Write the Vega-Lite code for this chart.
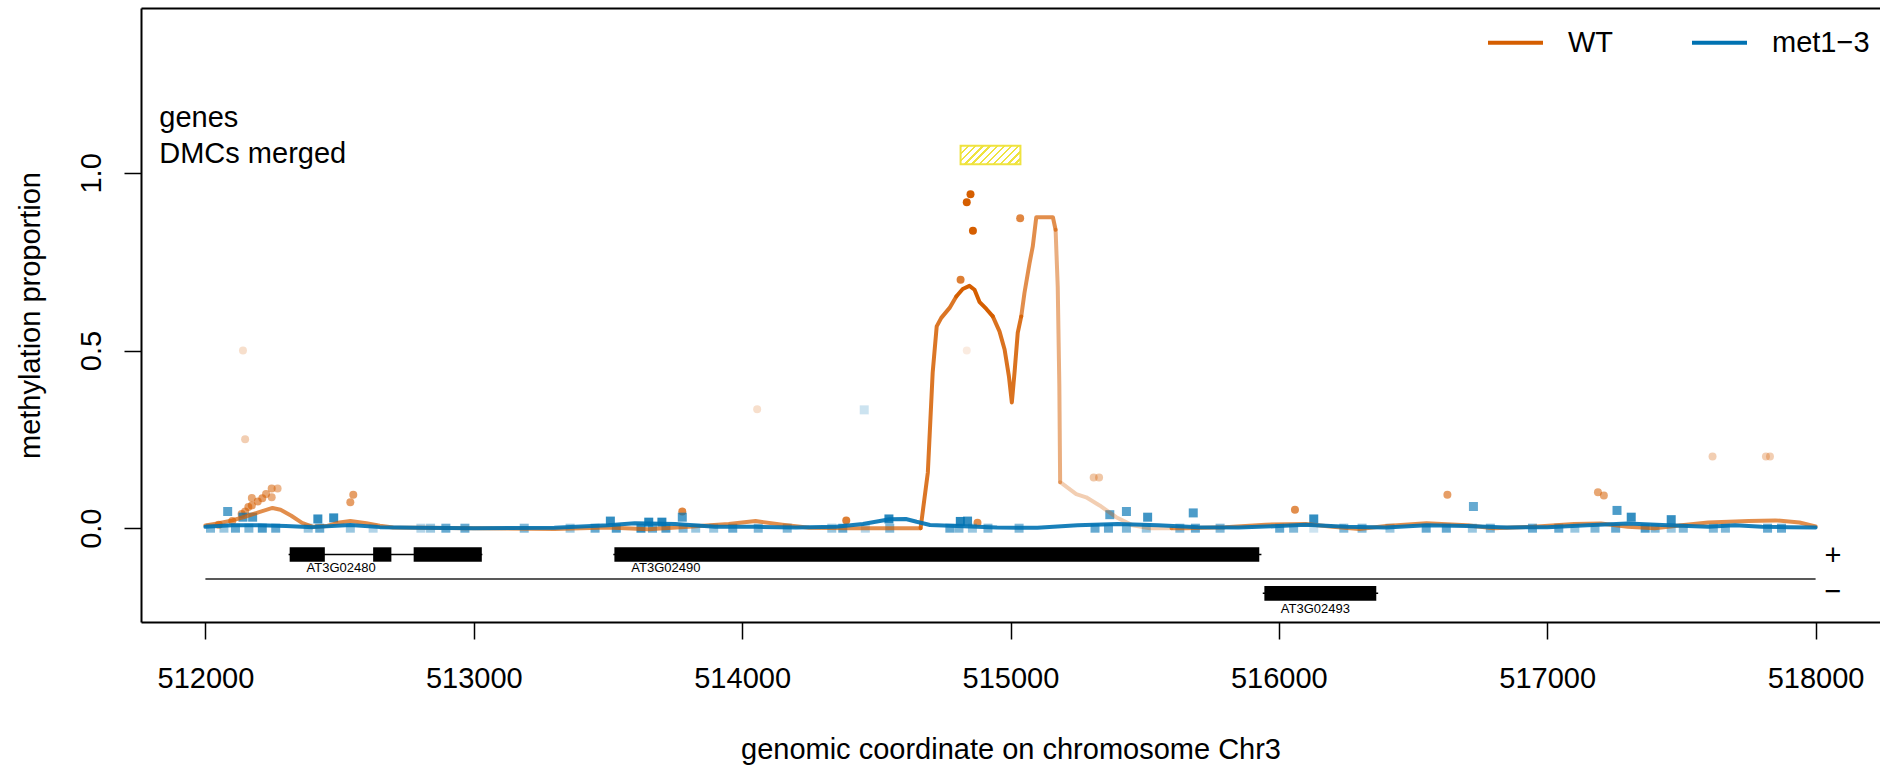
{
  "$schema": "https://vega.github.io/schema/vega-lite/v6.json",
  "width": 1739,
  "height": 614,
  "autosize": {"type": "none"},
  "padding": {"left": 141, "top": 8, "right": 0, "bottom": 143},
  "background": "white",
  "config": {"view": {"stroke": null}, "font": "Liberation Sans"},
  "datasets": {
    "lines": [
      {"sample":"WT","seg":"w1","a":0.7,"pos":512000,"meth":0.008},{"sample":"WT","seg":"w1","a":0.7,"pos":512050,"meth":0.014},{"sample":"WT","seg":"w1","a":0.7,"pos":512100,"meth":0.022},{"sample":"WT","seg":"w1","a":0.7,"pos":512150,"meth":0.033},{"sample":"WT","seg":"w1","a":0.7,"pos":512200,"meth":0.045},{"sample":"WT","seg":"w1","a":0.7,"pos":512250,"meth":0.057},{"sample":"WT","seg":"w1","a":0.7,"pos":512280,"meth":0.052},{"sample":"WT","seg":"w1","a":0.7,"pos":512320,"meth":0.035},{"sample":"WT","seg":"w1","a":0.7,"pos":512360,"meth":0.015},{"sample":"WT","seg":"w1","a":0.7,"pos":512400,"meth":0.004},{"sample":"WT","seg":"w1","a":0.7,"pos":512450,"meth":0.006},{"sample":"WT","seg":"w1","a":0.7,"pos":512500,"meth":0.016},{"sample":"WT","seg":"w1","a":0.7,"pos":512540,"meth":0.02},{"sample":"WT","seg":"w1","a":0.7,"pos":512600,"meth":0.014},{"sample":"WT","seg":"w1","a":0.7,"pos":512650,"meth":0.007},{"sample":"WT","seg":"w1","a":0.7,"pos":512700,"meth":0.002},{"sample":"WT","seg":"w1","a":0.7,"pos":512800,"meth":0.001},{"sample":"WT","seg":"w1","a":0.7,"pos":513000,"meth":0.0},{"sample":"WT","seg":"w1","a":0.7,"pos":513300,"meth":-0.002},{"sample":"WT","seg":"w1","a":0.7,"pos":513500,"meth":0.002},{"sample":"WT","seg":"w1","a":0.7,"pos":513650,"meth":-0.003},{"sample":"WT","seg":"w1","a":0.7,"pos":513800,"meth":0.004},{"sample":"WT","seg":"w1","a":0.7,"pos":513950,"meth":0.012},{"sample":"WT","seg":"w1","a":0.7,"pos":514050,"meth":0.02},{"sample":"WT","seg":"w1","a":0.7,"pos":514150,"meth":0.01},{"sample":"WT","seg":"w1","a":0.7,"pos":514250,"meth":0.001},{"sample":"WT","seg":"w1","a":0.7,"pos":514400,"meth":0.0},{"sample":"WT","seg":"w1","a":0.7,"pos":514550,"meth":0.0},{"sample":"WT","seg":"w1","a":0.7,"pos":514665,"meth":0.0},
      {"sample":"WT","seg":"w2","a":0.85,"pos":514665,"meth":0.0},{"sample":"WT","seg":"w2","a":0.85,"pos":514692,"meth":0.157},{"sample":"WT","seg":"w2","a":0.85,"pos":514710,"meth":0.438},{"sample":"WT","seg":"w2","a":0.85,"pos":514725,"meth":0.568},{"sample":"WT","seg":"w2","a":0.85,"pos":514742,"meth":0.592},{"sample":"WT","seg":"w2","a":0.85,"pos":514773,"meth":0.62},{"sample":"WT","seg":"w2","a":0.85,"pos":514798,"meth":0.652},
      {"sample":"WT","seg":"w3","a":1,"pos":514798,"meth":0.652},{"sample":"WT","seg":"w3","a":1,"pos":514822,"meth":0.673},{"sample":"WT","seg":"w3","a":1,"pos":514847,"meth":0.682},{"sample":"WT","seg":"w3","a":1,"pos":514866,"meth":0.671},{"sample":"WT","seg":"w3","a":1,"pos":514885,"meth":0.636},{"sample":"WT","seg":"w3","a":1,"pos":514910,"meth":0.617},{"sample":"WT","seg":"w3","a":1,"pos":514934,"meth":0.596},
      {"sample":"WT","seg":"w4","a":0.88,"pos":514934,"meth":0.596},{"sample":"WT","seg":"w4","a":0.88,"pos":514959,"meth":0.554},{"sample":"WT","seg":"w4","a":0.88,"pos":514978,"meth":0.503},{"sample":"WT","seg":"w4","a":0.88,"pos":514994,"meth":0.428},{"sample":"WT","seg":"w4","a":0.88,"pos":515005,"meth":0.354},{"sample":"WT","seg":"w4","a":0.88,"pos":515015,"meth":0.438},{"sample":"WT","seg":"w4","a":0.88,"pos":515027,"meth":0.55},{"sample":"WT","seg":"w4","a":0.88,"pos":515040,"meth":0.596},
      {"sample":"WT","seg":"w5","a":0.7,"pos":515040,"meth":0.596},{"sample":"WT","seg":"w5","a":0.7,"pos":515052,"meth":0.662},{"sample":"WT","seg":"w5","a":0.7,"pos":515071,"meth":0.746},{"sample":"WT","seg":"w5","a":0.7,"pos":515083,"meth":0.793},{"sample":"WT","seg":"w5","a":0.7,"pos":515096,"meth":0.875},{"sample":"WT","seg":"w5","a":0.7,"pos":515158,"meth":0.875},{"sample":"WT","seg":"w5","a":0.7,"pos":515168,"meth":0.84},
      {"sample":"WT","seg":"w6","a":0.5,"pos":515168,"meth":0.84},{"sample":"WT","seg":"w6","a":0.5,"pos":515176,"meth":0.68},{"sample":"WT","seg":"w6","a":0.5,"pos":515182,"meth":0.4},{"sample":"WT","seg":"w6","a":0.5,"pos":515185,"meth":0.129},
      {"sample":"WT","seg":"w7","a":0.3,"pos":515185,"meth":0.129},{"sample":"WT","seg":"w7","a":0.3,"pos":515194,"meth":0.125},{"sample":"WT","seg":"w7","a":0.3,"pos":515245,"meth":0.096},{"sample":"WT","seg":"w7","a":0.3,"pos":515282,"meth":0.087},{"sample":"WT","seg":"w7","a":0.3,"pos":515332,"meth":0.064},{"sample":"WT","seg":"w7","a":0.3,"pos":515394,"meth":0.031},{"sample":"WT","seg":"w7","a":0.3,"pos":515455,"meth":0.008},{"sample":"WT","seg":"w7","a":0.3,"pos":515520,"meth":0.0},{"sample":"WT","seg":"w7","a":0.3,"pos":515600,"meth":0.0},
      {"sample":"WT","seg":"w8","a":0.7,"pos":515600,"meth":0.0},{"sample":"WT","seg":"w8","a":0.7,"pos":515650,"meth":0.0},{"sample":"WT","seg":"w8","a":0.7,"pos":515800,"meth":0.003},{"sample":"WT","seg":"w8","a":0.7,"pos":515950,"meth":0.01},{"sample":"WT","seg":"w8","a":0.7,"pos":516100,"meth":0.012},{"sample":"WT","seg":"w8","a":0.7,"pos":516200,"meth":0.004},{"sample":"WT","seg":"w8","a":0.7,"pos":516300,"meth":-0.002},{"sample":"WT","seg":"w8","a":0.7,"pos":516400,"meth":0.006},{"sample":"WT","seg":"w8","a":0.7,"pos":516550,"meth":0.014},{"sample":"WT","seg":"w8","a":0.7,"pos":516700,"meth":0.008},{"sample":"WT","seg":"w8","a":0.7,"pos":516800,"meth":0.0},{"sample":"WT","seg":"w8","a":0.7,"pos":516950,"meth":0.004},{"sample":"WT","seg":"w8","a":0.7,"pos":517100,"meth":0.012},{"sample":"WT","seg":"w8","a":0.7,"pos":517200,"meth":0.013},{"sample":"WT","seg":"w8","a":0.7,"pos":517300,"meth":0.004},{"sample":"WT","seg":"w8","a":0.7,"pos":517400,"meth":0.0},{"sample":"WT","seg":"w8","a":0.7,"pos":517500,"meth":0.008},{"sample":"WT","seg":"w8","a":0.7,"pos":517600,"meth":0.016},{"sample":"WT","seg":"w8","a":0.7,"pos":517750,"meth":0.02},{"sample":"WT","seg":"w8","a":0.7,"pos":517850,"meth":0.022},{"sample":"WT","seg":"w8","a":0.7,"pos":517940,"meth":0.016},{"sample":"WT","seg":"w8","a":0.7,"pos":518000,"meth":0.005},
      {"sample":"met1−3","seg":"m1","a":0.9,"pos":512000,"meth":0.004},{"sample":"met1−3","seg":"m1","a":0.9,"pos":512100,"meth":0.008},{"sample":"met1−3","seg":"m1","a":0.9,"pos":512200,"meth":0.008},{"sample":"met1−3","seg":"m1","a":0.9,"pos":512300,"meth":0.006},{"sample":"met1−3","seg":"m1","a":0.9,"pos":512400,"meth":0.003},{"sample":"met1−3","seg":"m1","a":0.9,"pos":512540,"meth":0.009},{"sample":"met1−3","seg":"m1","a":0.9,"pos":512650,"meth":0.003},{"sample":"met1−3","seg":"m1","a":0.9,"pos":512800,"meth":0.001},{"sample":"met1−3","seg":"m1","a":0.9,"pos":513000,"meth":0.0},{"sample":"met1−3","seg":"m1","a":0.9,"pos":513300,"meth":0.001},{"sample":"met1−3","seg":"m1","a":0.9,"pos":513500,"meth":0.008},{"sample":"met1−3","seg":"m1","a":0.9,"pos":513600,"meth":0.014},{"sample":"met1−3","seg":"m1","a":0.9,"pos":513750,"meth":0.012},{"sample":"met1−3","seg":"m1","a":0.9,"pos":513900,"meth":0.004},{"sample":"met1−3","seg":"m1","a":0.9,"pos":514050,"meth":0.004},{"sample":"met1−3","seg":"m1","a":0.9,"pos":514200,"meth":0.002},{"sample":"met1−3","seg":"m1","a":0.9,"pos":514350,"meth":0.004},{"sample":"met1−3","seg":"m1","a":0.9,"pos":514450,"meth":0.012},{"sample":"met1−3","seg":"m1","a":0.9,"pos":514550,"meth":0.025},{"sample":"met1−3","seg":"m1","a":0.9,"pos":514610,"meth":0.026},{"sample":"met1−3","seg":"m1","a":0.9,"pos":514650,"meth":0.018},{"sample":"met1−3","seg":"m1","a":0.9,"pos":514700,"meth":0.009},{"sample":"met1−3","seg":"m1","a":0.9,"pos":514800,"meth":0.006},{"sample":"met1−3","seg":"m1","a":0.9,"pos":514950,"meth":0.002},{"sample":"met1−3","seg":"m1","a":0.9,"pos":515100,"meth":0.001},{"sample":"met1−3","seg":"m1","a":0.9,"pos":515250,"meth":0.008},{"sample":"met1−3","seg":"m1","a":0.9,"pos":515400,"meth":0.012},{"sample":"met1−3","seg":"m1","a":0.9,"pos":515550,"meth":0.008},{"sample":"met1−3","seg":"m1","a":0.9,"pos":515700,"meth":0.003},{"sample":"met1−3","seg":"m1","a":0.9,"pos":515850,"meth":0.002},{"sample":"met1−3","seg":"m1","a":0.9,"pos":516000,"meth":0.006},{"sample":"met1−3","seg":"m1","a":0.9,"pos":516100,"meth":0.01},{"sample":"met1−3","seg":"m1","a":0.9,"pos":516250,"meth":0.004},{"sample":"met1−3","seg":"m1","a":0.9,"pos":516400,"meth":0.002},{"sample":"met1−3","seg":"m1","a":0.9,"pos":516550,"meth":0.008},{"sample":"met1−3","seg":"m1","a":0.9,"pos":516700,"meth":0.006},{"sample":"met1−3","seg":"m1","a":0.9,"pos":516850,"meth":0.002},{"sample":"met1−3","seg":"m1","a":0.9,"pos":517000,"meth":0.003},{"sample":"met1−3","seg":"m1","a":0.9,"pos":517150,"meth":0.008},{"sample":"met1−3","seg":"m1","a":0.9,"pos":517300,"meth":0.013},{"sample":"met1−3","seg":"m1","a":0.9,"pos":517450,"meth":0.008},{"sample":"met1−3","seg":"m1","a":0.9,"pos":517600,"meth":0.004},{"sample":"met1−3","seg":"m1","a":0.9,"pos":517700,"meth":0.008},{"sample":"met1−3","seg":"m1","a":0.9,"pos":517800,"meth":0.004},{"sample":"met1−3","seg":"m1","a":0.9,"pos":517900,"meth":0.003},{"sample":"met1−3","seg":"m1","a":0.9,"pos":518000,"meth":0.002}
    ],
    "wtpts": [
      {"pos":512050,"meth":0.01,"a":0.6},{"pos":512100,"meth":0.02,"a":0.6},{"pos":512135,"meth":0.04,"a":0.6},{"pos":512148,"meth":0.047,"a":0.6},{"pos":512148,"meth":0.25,"a":0.3},{"pos":512140,"meth":0.5,"a":0.2},{"pos":512160,"meth":0.06,"a":0.6},{"pos":512173,"meth":0.064,"a":0.6},{"pos":512173,"meth":0.085,"a":0.55},{"pos":512195,"meth":0.075,"a":0.6},{"pos":512212,"meth":0.084,"a":0.6},{"pos":512226,"meth":0.096,"a":0.55},{"pos":512247,"meth":0.087,"a":0.5},{"pos":512247,"meth":0.112,"a":0.55},{"pos":512269,"meth":0.112,"a":0.45},{"pos":512540,"meth":0.073,"a":0.6},{"pos":512551,"meth":0.094,"a":0.6},{"pos":513777,"meth":0.047,"a":0.75},{"pos":514056,"meth":0.335,"a":0.2},{"pos":514388,"meth":0.022,"a":0.8},{"pos":514814,"meth":0.699,"a":0.8},{"pos":514837,"meth":0.917,"a":1},{"pos":514851,"meth":0.94,"a":1},{"pos":514860,"meth":0.837,"a":1},{"pos":514837,"meth":0.5,"a":0.12},{"pos":514877,"meth":0.015,"a":0.7},{"pos":515036,"meth":0.872,"a":0.75},{"pos":515310,"meth":0.143,"a":0.35},{"pos":515330,"meth":0.143,"a":0.35},{"pos":516060,"meth":0.052,"a":0.7},{"pos":516628,"meth":0.094,"a":0.6},{"pos":517189,"meth":0.101,"a":0.55},{"pos":517211,"meth":0.092,"a":0.55},{"pos":517616,"meth":0.202,"a":0.3},{"pos":517815,"meth":0.202,"a":0.3},{"pos":517830,"meth":0.202,"a":0.3}
    ],
    "metpts": [
      {"pos":512083,"meth":0.047,"a":0.65},{"pos":512140,"meth":0.031,"a":0.7},{"pos":512176,"meth":0.031,"a":0.7},{"pos":512419,"meth":0.026,"a":0.8},{"pos":512478,"meth":0.029,"a":0.8},{"pos":513509,"meth":0.02,"a":0.8},{"pos":513652,"meth":0.017,"a":0.85},{"pos":513701,"meth":0.017,"a":0.85},{"pos":513777,"meth":0.031,"a":0.7},{"pos":514455,"meth":0.333,"a":0.2},{"pos":514547,"meth":0.026,"a":0.85},{"pos":514813,"meth":0.019,"a":0.85},{"pos":514840,"meth":0.02,"a":0.8},{"pos":515370,"meth":0.038,"a":0.65},{"pos":515432,"meth":0.047,"a":0.65},{"pos":515511,"meth":0.031,"a":0.75},{"pos":515681,"meth":0.043,"a":0.7},{"pos":516130,"meth":0.026,"a":0.8},{"pos":516725,"meth":0.061,"a":0.6},{"pos":517260,"meth":0.05,"a":0.7},{"pos":517313,"meth":0.031,"a":0.8},{"pos":517462,"meth":0.024,"a":0.8},
      {"pos":512019,"meth":0,"a":0.5},{"pos":512069,"meth":0,"a":0.4},{"pos":512112,"meth":0,"a":0.6},{"pos":512162,"meth":0,"a":0.5},{"pos":512212,"meth":0,"a":0.7},{"pos":512262,"meth":0,"a":0.6},{"pos":512383,"meth":0,"a":0.4},{"pos":512426,"meth":0,"a":0.6},{"pos":512540,"meth":0,"a":0.4},{"pos":512625,"meth":0,"a":0.3},{"pos":512803,"meth":0,"a":0.3},{"pos":512839,"meth":0,"a":0.4},{"pos":512896,"meth":0,"a":0.6},{"pos":512967,"meth":0,"a":0.6},{"pos":513188,"meth":0,"a":0.5},{"pos":513359,"meth":0,"a":0.4},{"pos":513452,"meth":0,"a":0.6},{"pos":513531,"meth":0,"a":0.7},{"pos":513623,"meth":0,"a":0.8},{"pos":513666,"meth":0,"a":0.6},{"pos":513716,"meth":0,"a":0.7},{"pos":513780,"meth":0,"a":0.5},{"pos":513827,"meth":0,"a":0.4},{"pos":513894,"meth":0,"a":0.4},{"pos":513965,"meth":0,"a":0.6},{"pos":514060,"meth":0,"a":0.5},{"pos":514168,"meth":0,"a":0.5},{"pos":514334,"meth":0,"a":0.4},{"pos":514375,"meth":0,"a":0.6},{"pos":514459,"meth":0,"a":0.3},{"pos":514550,"meth":0,"a":0.5},{"pos":514774,"meth":0,"a":0.6},{"pos":514808,"meth":0,"a":0.5},{"pos":514858,"meth":0,"a":0.4},{"pos":514916,"meth":0,"a":0.5},{"pos":515032,"meth":0,"a":0.5},{"pos":515315,"meth":0,"a":0.6},{"pos":515365,"meth":0,"a":0.6},{"pos":515432,"meth":0,"a":0.5},{"pos":515506,"meth":0,"a":0.4},{"pos":515631,"meth":0,"a":0.5},{"pos":515689,"meth":0,"a":0.6},{"pos":515781,"meth":0,"a":0.5},{"pos":516003,"meth":0,"a":0.6},{"pos":516055,"meth":0,"a":0.5},{"pos":516130,"meth":0,"a":0.2},{"pos":516242,"meth":0,"a":0.5},{"pos":516310,"meth":0,"a":0.5},{"pos":516414,"meth":0,"a":0.4},{"pos":516549,"meth":0,"a":0.6},{"pos":516624,"meth":0,"a":0.6},{"pos":516721,"meth":0,"a":0.4},{"pos":516788,"meth":0,"a":0.5},{"pos":516945,"meth":0,"a":0.6},{"pos":517043,"meth":0,"a":0.6},{"pos":517103,"meth":0,"a":0.4},{"pos":517178,"meth":0,"a":0.5},{"pos":517255,"meth":0,"a":0.6},{"pos":517365,"meth":0,"a":0.7},{"pos":517402,"meth":0,"a":0.5},{"pos":517462,"meth":0,"a":0.4},{"pos":517507,"meth":0,"a":0.5},{"pos":517619,"meth":0,"a":0.5},{"pos":517664,"meth":0,"a":0.5},{"pos":517821,"meth":0,"a":0.6},{"pos":517873,"meth":0,"a":0.6}
    ],
    "genes": [
      {"gene":"AT3G02480","strand":"+","start":512310,"end":513032},
      {"gene":"AT3G02490","strand":"+","start":513520,"end":515935},
      {"gene":"AT3G02493","strand":"-","start":515940,"end":516370}
    ],
    "exons": [
      {"gene":"AT3G02480","strand":"+","start":512314,"end":512445},
      {"gene":"AT3G02480","strand":"+","start":512625,"end":512693},
      {"gene":"AT3G02480","strand":"+","start":512776,"end":513030},
      {"gene":"AT3G02490","strand":"+","start":513524,"end":515927},
      {"gene":"AT3G02493","strand":"-","start":515946,"end":516363}
    ]
  },
  "layer": [
    {
      "data": {"values": [{}]},
      "mark": {"type": "text", "text": ["genes", "DMCs merged"], "align": "left", "baseline": "alphabetic", "fontSize": 29, "lineHeight": 35.7, "font": "Liberation Sans", "color": "black"},
      "encoding": {
        "x": {"datum": 511828, "type": "quantitative", "axis": null},
        "y": {"datum": 1.129, "type": "quantitative"}
      }
    },
    {
      "data": {"values": [{}]},
      "mark": {"type": "rule", "color": "#222222", "strokeWidth": 1.5},
      "encoding": {
        "x": {"datum": 512000, "type": "quantitative", "axis": null},
        "x2": {"datum": 518000},
        "y": {"datum": -0.143, "type": "quantitative"}
      }
    },
    {
      "data": {"name": "genes"},
      "transform": [{"filter": "datum.strand === '+'"}],
      "mark": {"type": "rule", "color": "black", "strokeWidth": 1.5},
      "encoding": {
        "x": {"field": "start", "type": "quantitative", "axis": null},
        "x2": {"field": "end"},
        "y": {"datum": -0.074, "type": "quantitative"}
      }
    },
    {
      "data": {"name": "genes"},
      "transform": [{"filter": "datum.strand === '-'"}],
      "mark": {"type": "rule", "color": "black", "strokeWidth": 1.5},
      "encoding": {
        "x": {"field": "start", "type": "quantitative", "axis": null},
        "x2": {"field": "end"},
        "y": {"datum": -0.183, "type": "quantitative"}
      }
    },
    {
      "data": {"name": "exons"},
      "transform": [{"filter": "datum.strand === '+'"}],
      "mark": {"type": "rect", "color": "black"},
      "encoding": {
        "x": {"field": "start", "type": "quantitative", "axis": null},
        "x2": {"field": "end"},
        "y": {"datum": -0.0538, "type": "quantitative"},
        "y2": {"datum": -0.0943}
      }
    },
    {
      "data": {"name": "exons"},
      "transform": [{"filter": "datum.strand === '-'"}],
      "mark": {"type": "rect", "color": "black"},
      "encoding": {
        "x": {"field": "start", "type": "quantitative", "axis": null},
        "x2": {"field": "end"},
        "y": {"datum": -0.1627, "type": "quantitative"},
        "y2": {"datum": -0.204}
      }
    },
    {
      "data": {"name": "genes"},
      "transform": [{"filter": "datum.strand === '+'"}],
      "mark": {"type": "text", "align": "left", "baseline": "middle", "dx": 18, "fontSize": 13, "font": "Liberation Sans", "color": "black"},
      "encoding": {
        "x": {"field": "start", "type": "quantitative", "axis": null},
        "y": {"datum": -0.112, "type": "quantitative"},
        "text": {"field": "gene"}
      }
    },
    {
      "data": {"name": "genes"},
      "transform": [{"filter": "datum.strand === '-'"}],
      "mark": {"type": "text", "align": "left", "baseline": "middle", "dx": 18, "fontSize": 13, "font": "Liberation Sans", "color": "black"},
      "encoding": {
        "x": {"field": "start", "type": "quantitative", "axis": null},
        "y": {"datum": -0.228, "type": "quantitative"},
        "text": {"field": "gene"}
      }
    },
    {
      "data": {"values": [{}]},
      "mark": {"type": "text", "text": ["+", "−"], "align": "center", "baseline": "alphabetic", "fontSize": 29, "lineHeight": 36.7, "font": "Liberation Sans", "color": "black"},
      "encoding": {
        "x": {"datum": 518065, "type": "quantitative", "axis": null},
        "y": {"datum": -0.1024, "type": "quantitative"}
      }
    },
    {
      "data": {"values": [{"start": 514814, "end": 515037}]},
      "mark": {
        "type": "rect",
        "stroke": "#EFE33F",
        "strokeWidth": 2,
        "fill": {
          "gradient": "linear", "x1": 0, "y1": 0, "x2": 1.2, "y2": 0.372,
          "stops": [
            {"offset": 0, "color": "#EFE33F"}, {"offset": 0.03, "color": "#EFE33F"}, {"offset": 0.03, "color": "white"}, {"offset": 0.0909, "color": "white"},
            {"offset": 0.0909, "color": "#EFE33F"}, {"offset": 0.1209, "color": "#EFE33F"}, {"offset": 0.1209, "color": "white"}, {"offset": 0.1818, "color": "white"},
            {"offset": 0.1818, "color": "#EFE33F"}, {"offset": 0.2118, "color": "#EFE33F"}, {"offset": 0.2118, "color": "white"}, {"offset": 0.2727, "color": "white"},
            {"offset": 0.2727, "color": "#EFE33F"}, {"offset": 0.3027, "color": "#EFE33F"}, {"offset": 0.3027, "color": "white"}, {"offset": 0.3636, "color": "white"},
            {"offset": 0.3636, "color": "#EFE33F"}, {"offset": 0.3936, "color": "#EFE33F"}, {"offset": 0.3936, "color": "white"}, {"offset": 0.4545, "color": "white"},
            {"offset": 0.4545, "color": "#EFE33F"}, {"offset": 0.4845, "color": "#EFE33F"}, {"offset": 0.4845, "color": "white"}, {"offset": 0.5455, "color": "white"},
            {"offset": 0.5455, "color": "#EFE33F"}, {"offset": 0.5755, "color": "#EFE33F"}, {"offset": 0.5755, "color": "white"}, {"offset": 0.6364, "color": "white"},
            {"offset": 0.6364, "color": "#EFE33F"}, {"offset": 0.6664, "color": "#EFE33F"}, {"offset": 0.6664, "color": "white"}, {"offset": 0.7273, "color": "white"},
            {"offset": 0.7273, "color": "#EFE33F"}, {"offset": 0.7573, "color": "#EFE33F"}, {"offset": 0.7573, "color": "white"}, {"offset": 0.8182, "color": "white"},
            {"offset": 0.8182, "color": "#EFE33F"}, {"offset": 0.8482, "color": "#EFE33F"}, {"offset": 0.8482, "color": "white"}, {"offset": 0.9091, "color": "white"},
            {"offset": 0.9091, "color": "#EFE33F"}, {"offset": 0.9391, "color": "#EFE33F"}, {"offset": 0.9391, "color": "white"}, {"offset": 1, "color": "white"}
          ]
        }
      },
      "encoding": {
        "x": {
          "field": "start", "type": "quantitative",
          "axis": {"orient": "top", "labels": false, "ticks": false, "title": null, "domainColor": "black", "domainWidth": 2, "grid": false}
        },
        "x2": {"field": "end"},
        "y": {"datum": 1.0242, "type": "quantitative"},
        "y2": {"datum": 1.0766}
      }
    },
    {
      "data": {"name": "wtpts"},
      "mark": {"type": "point", "shape": "circle", "filled": true, "size": 64, "color": "#D55E00", "strokeWidth": 0},
      "encoding": {
        "x": {"field": "pos", "type": "quantitative", "axis": null},
        "y": {"field": "meth", "type": "quantitative"},
        "opacity": {"field": "a", "type": "quantitative", "scale": null}
      }
    },
    {
      "data": {"name": "metpts"},
      "mark": {"type": "point", "shape": "square", "filled": true, "size": 81, "color": "#0072B2", "strokeWidth": 0},
      "encoding": {
        "x": {"field": "pos", "type": "quantitative", "axis": null},
        "y": {"field": "meth", "type": "quantitative"},
        "opacity": {"field": "a", "type": "quantitative", "scale": null}
      }
    },
    {
      "data": {"name": "lines"},
      "mark": {"type": "line", "strokeWidth": 4, "strokeCap": "round", "strokeJoin": "round"},
      "encoding": {
        "x": {
          "field": "pos", "type": "quantitative",
          "scale": {"domain": [511760, 518240], "nice": false, "zero": false},
          "axis": {
            "orient": "bottom",
            "values": [512000, 513000, 514000, 515000, 516000, 517000, 518000],
            "format": "d",
            "labelFontSize": 29, "labelFont": "Liberation Sans", "labelColor": "black",
            "labelPadding": 25, "labelBaseline": "top", "labelFlush": false, "labelOverlap": false,
            "tickSize": 17, "tickWidth": 1.5, "tickColor": "black",
            "domainColor": "black", "domainWidth": 2, "grid": false,
            "title": "genomic coordinate on chromosome Chr3",
            "titleFontSize": 29, "titleFont": "Liberation Sans", "titleFontWeight": "normal", "titleColor": "black",
            "titleBaseline": "alphabetic", "titleY": 136
          }
        },
        "y": {
          "field": "meth", "type": "quantitative",
          "scale": {"domain": [-0.264, 1.464], "nice": false, "zero": false},
          "axis": {
            "orient": "left",
            "values": [0, 0.5, 1],
            "format": ".1f",
            "labelAngle": -90, "labelAlign": "center", "labelBaseline": "alphabetic",
            "labelFontSize": 29, "labelFont": "Liberation Sans", "labelColor": "black", "labelPadding": 23.6,
            "tickSize": 17, "tickWidth": 1.5, "tickColor": "black",
            "domainColor": "black", "domainWidth": 2, "grid": false,
            "title": "methylation proportion",
            "titleFontSize": 29, "titleFont": "Liberation Sans", "titleFontWeight": "normal", "titleColor": "black",
            "titleAngle": -90, "titleBaseline": "alphabetic", "titleX": -102
          }
        },
        "detail": {"field": "seg"},
        "opacity": {"field": "a", "type": "quantitative", "scale": null},
        "color": {
          "field": "sample", "type": "nominal",
          "scale": {"domain": ["WT", "met1−3"], "range": ["#D55E00", "#0072B2"]},
          "legend": {
            "orient": "none", "legendX": 1345, "legendY": 5, "direction": "horizontal",
            "title": null, "symbolType": "stroke", "symbolSize": 3025, "symbolStrokeWidth": 4,
            "symbolOpacity": 1,
            "labelFontSize": 29, "labelFont": "Liberation Sans", "labelColor": "black",
            "labelOffset": 23, "columnPadding": 70, "padding": 0
          }
        }
      }
    }
  ],
  "resolve": {"axis": {"x": "independent"}}
}
